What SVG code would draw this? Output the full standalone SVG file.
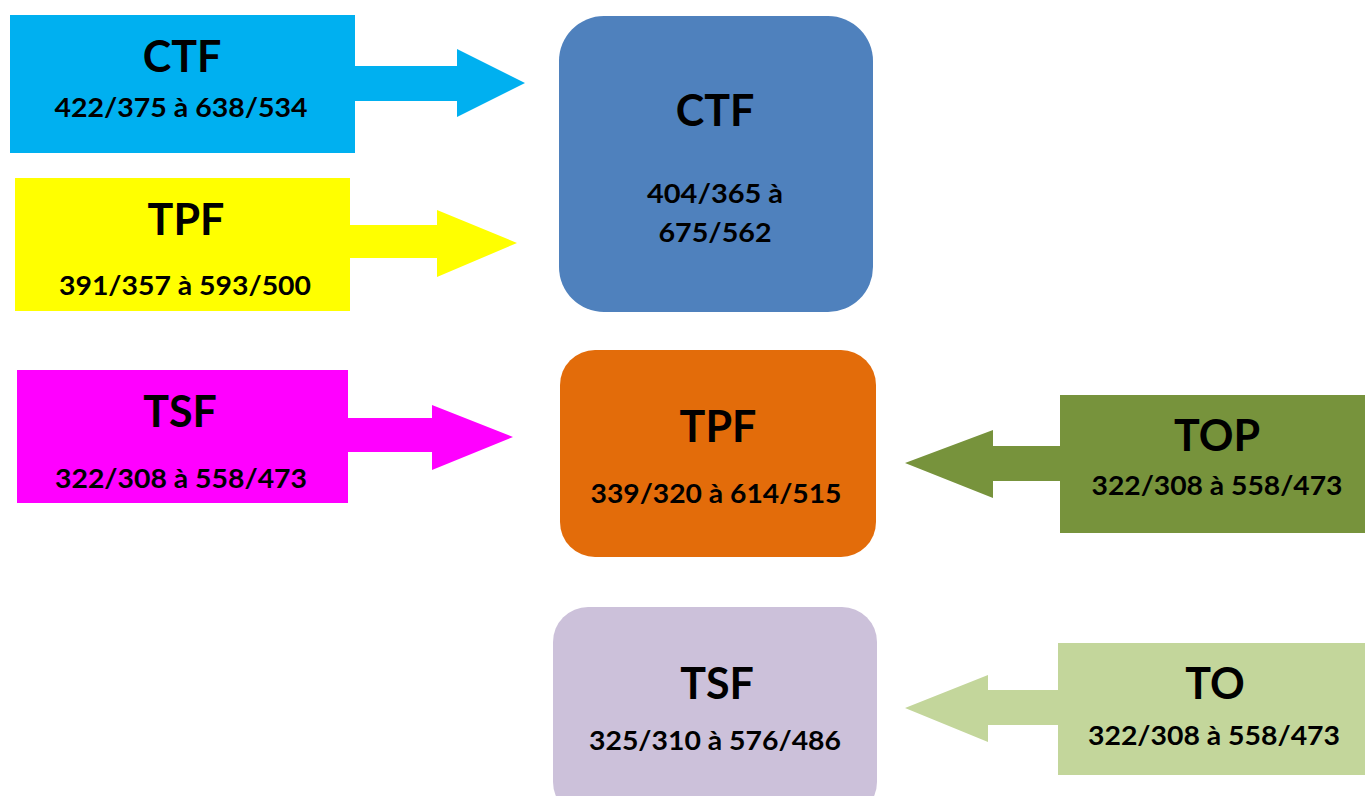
<svg xmlns="http://www.w3.org/2000/svg" width="1365" height="796" viewBox="0 0 1365 796">
<style>
.t{font-family:Lato,"Open Sans","Liberation Sans",sans-serif;font-weight:bold;fill:#000;text-anchor:middle}
.h{font-size:43px}
.n{font-size:26px}
</style>
<rect width="1365" height="796" fill="#fff"/>
<g id="connectors">
<polygon id="a-ctf" fill="#00B0F0" points="354,66 457,66 457,49 525,83 457,117 457,101 354,101"/>
<polygon id="a-tpf" fill="#FFFF00" points="349,225 437,225 437,210 517,243 437,277 437,258 349,258"/>
<polygon id="a-tsf" fill="#FF00FF" points="347,418 432,418 432,405 513,437 432,470 432,452 347,452"/>
<polygon id="a-top" fill="#77933C" points="1061,446 993,446 993,430 905,463 993,498 993,481 1061,481"/>
<polygon id="a-to" fill="#C3D69B" points="1059,690 988,690 988,675 905,708 988,742 988,725 1059,725"/>
</g>
<g id="n-ctf-left">
<rect x="10" y="15" width="345" height="138" fill="#00B0F0"/>
<text class="t h" x="182" y="72">CTF</text>
<text class="t n" x="181" y="117" textLength="253" lengthAdjust="spacingAndGlyphs">422/375 à 638/534</text>
</g>
<g id="n-tpf-left">
<rect x="15" y="178" width="335" height="133" fill="#FFFF00"/>
<text class="t h" x="186" y="235">TPF</text>
<text class="t n" x="185" y="295" textLength="252" lengthAdjust="spacingAndGlyphs">391/357 à 593/500</text>
</g>
<g id="n-tsf-left">
<rect x="17" y="370" width="331" height="133" fill="#FF00FF"/>
<text class="t h" x="180" y="427">TSF</text>
<text class="t n" x="181" y="488" textLength="252" lengthAdjust="spacingAndGlyphs">322/308 à 558/473</text>
</g>
<g id="n-ctf">
<rect x="559" y="16" width="314" height="296" rx="45" fill="#4F81BD"/>
<text class="t h" x="715" y="126">CTF</text>
<text class="t n" x="715" y="203" textLength="136" lengthAdjust="spacingAndGlyphs">404/365 à</text>
<text class="t n" x="715" y="242" textLength="113" lengthAdjust="spacingAndGlyphs">675/562</text>
</g>
<g id="n-tpf">
<rect x="560" y="350" width="316" height="207" rx="35" fill="#E36C0A"/>
<text class="t h" x="718" y="442">TPF</text>
<text class="t n" x="716" y="503" textLength="251" lengthAdjust="spacingAndGlyphs">339/320 à 614/515</text>
</g>
<g id="n-tsf">
<rect x="553" y="607" width="324" height="210" rx="35" fill="#CCC1DA"/>
<text class="t h" x="717" y="699">TSF</text>
<text class="t n" x="715" y="750" textLength="252" lengthAdjust="spacingAndGlyphs">325/310 à 576/486</text>
</g>
<g id="n-top">
<rect x="1060" y="395" width="305" height="138" fill="#77933C"/>
<text class="t h" x="1217" y="451">TOP</text>
<text class="t n" x="1217" y="495" textLength="251" lengthAdjust="spacingAndGlyphs">322/308 à 558/473</text>
</g>
<g id="n-to">
<rect x="1058" y="643" width="307" height="132" fill="#C3D69B"/>
<text class="t h" x="1215" y="699">TO</text>
<text class="t n" x="1214" y="745" textLength="252" lengthAdjust="spacingAndGlyphs">322/308 à 558/473</text>
</g>
</svg>
